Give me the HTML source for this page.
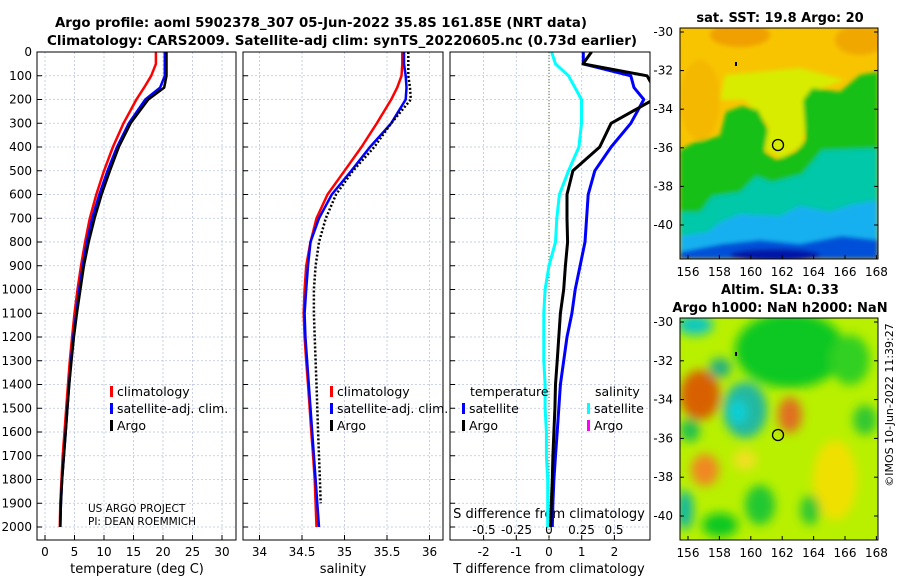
<!DOCTYPE html>
<html><head><meta charset="utf-8"><style>
body{margin:0;background:#fff}
svg{display:block;font-family:"DejaVu Sans","Liberation Sans",sans-serif}
</style></head><body>
<svg id="c" width="900" height="580" viewBox="0 0 900 580">
<defs>
<filter id="bl" x="-20%" y="-20%" width="140%" height="140%"><feGaussianBlur stdDeviation="2"/></filter>
<filter id="bl2" x="-20%" y="-20%" width="140%" height="140%"><feGaussianBlur stdDeviation="5"/></filter>
<clipPath id="cp1"><rect x="37" y="52" width="199" height="488"/></clipPath>
<clipPath id="cp2"><rect x="243" y="52" width="200" height="488"/></clipPath>
<clipPath id="cp3"><rect x="450" y="52" width="200" height="488"/></clipPath>
<clipPath id="cm1"><rect x="680" y="28" width="198" height="231"/></clipPath>
<clipPath id="cm2"><rect x="680" y="318" width="198" height="222"/></clipPath>
</defs>
<text x="55" y="27" font-size="13" font-weight="bold" textLength="532" lengthAdjust="spacingAndGlyphs">Argo profile: aoml 5902378_307 05-Jun-2022 35.8S 161.85E (NRT data)</text>
<text x="47" y="45" font-size="13" font-weight="bold" textLength="590" lengthAdjust="spacingAndGlyphs">Climatology: CARS2009. Satellite-adj clim: synTS_20220605.nc (0.73d earlier)</text>
<text x="780" y="22" font-size="13" font-weight="bold" text-anchor="middle">sat. SST: 19.8 Argo: 20</text>
<text x="780" y="294" font-size="13" font-weight="bold" text-anchor="middle">Altim. SLA: 0.33</text>
<text x="780" y="312" font-size="13" font-weight="bold" text-anchor="middle">Argo h1000: NaN h2000: NaN</text>
<text transform="translate(893,405) rotate(-90)" font-size="11" text-anchor="middle">©IMOS 10-Jun-2022 11:39:27</text>
<g id="g"></g>
</svg>
<script>
const depths=[0,50,100,150,200,300,400,500,600,700,800,900,1000,1100,1200,1300,1400,1500,1600,1700,1800,1900,2000];
const tClim=[18.8,18.8,18.0,16.8,15.5,13.3,11.5,10.0,8.7,7.6,6.8,6.1,5.5,5.0,4.6,4.2,3.9,3.6,3.3,3.0,2.8,2.6,2.5];
const tSat=[20.3,20.3,20.3,19.5,17.0,14.2,12.2,10.6,9.2,8.0,7.1,6.4,5.8,5.3,4.8,4.4,4.1,3.8,3.5,3.2,2.9,2.7,2.6];
const tArgo=[20.6,20.6,20.6,20.2,17.5,14.5,12.5,11.0,9.6,8.4,7.4,6.6,6.0,5.4,4.9,4.5,4.1,3.8,3.5,3.2,2.9,2.7,2.6];
const sClim=[35.68,35.68,35.67,35.62,35.55,35.38,35.2,35.0,34.8,34.67,34.6,34.55,34.53,34.52,34.53,34.55,34.57,34.59,34.61,34.63,34.65,34.66,34.67];
const sSat=[35.7,35.7,35.72,35.73,35.72,35.55,35.3,35.08,34.85,34.7,34.6,34.57,34.55,34.53,34.54,34.56,34.58,34.6,34.62,34.64,34.66,34.68,34.7];
const sArgo=[35.75,35.75,35.75,35.77,35.78,35.55,35.35,35.1,34.9,34.78,34.7,34.66,34.64,34.64,34.65,34.66,34.67,34.68,34.69,34.7,34.71,34.72,null];
const dtSat=[1.05,1.05,2.5,2.6,2.9,2.5,1.9,1.4,1.2,1.15,1.1,0.95,0.8,0.7,0.55,0.45,0.35,0.3,0.25,0.2,0.15,0.12,0.1];
const dtArgo=[1.3,1.04,3.0,3.2,3.2,1.9,1.55,0.73,0.55,0.55,0.57,0.5,0.45,0.35,0.3,0.25,0.2,0.18,0.15,0.12,0.1,0.07,0.05];
const dsSat=[0.02,0.05,0.15,0.2,0.25,0.25,0.23,0.15,0.08,0.06,0.05,0.0,-0.03,-0.04,-0.04,-0.04,-0.03,-0.03,-0.02,-0.02,-0.01,-0.01,-0.01];
const depthTicks=[0,100,200,300,400,500,600,700,800,900,1000,1100,1200,1300,1400,1500,1600,1700,1800,1900,2000];
const tTicks=[0,5,10,15,20,25,30];
const sTicks=[34,34.5,35,35.5,36];
const dtTicks=[-2,-1,0,1,2];
const dsTicks=[-0.5,-0.25,0,0.25,0.5];
const dsLabels=["-0.5","-0.25","0","0.25","0.5"];
const latTicks=[-30,-32,-34,-36,-38,-40];
const lonTicks=[156,158,160,162,164,166,168];

const NS="http://www.w3.org/2000/svg";
const G=document.getElementById('g');
function el(t,a,p){const e=document.createElementNS(NS,t);for(const k in a)e.setAttribute(k,a[k]);(p||G).appendChild(e);return e;}
function tx(x,y,s,a,p){const e=el('text',Object.assign({x:x,y:y,'font-size':12},a||{}),p);e.textContent=s;return e;}
const yD=d=>52+d*0.2375;
const xT=v=>45+v*5.9;
const xS=v=>302+(v-34.5)*85;
const xDT=v=>549+v*32.7;
const xDS=v=>549+v*130;
const panels=[[37,199,'cp1'],[243,200,'cp2'],[450,200,'cp3']];
panels.forEach((p,i)=>{
  const gg=el('g',{});
  
  
  depthTicks.forEach(d=>{el('line',{x1:p[0],x2:p[0]+p[1],y1:yD(d),y2:yD(d),stroke:'#b8c4e0','stroke-width':0.8,'stroke-dasharray':'2,2'},gg);
    el('line',{x1:p[0],x2:p[0]+5,y1:yD(d),y2:yD(d),stroke:'#000'},gg);});
  const xs=i==0?tTicks.map(xT):i==1?sTicks.map(xS):dtTicks.map(xDT);
  xs.forEach(x=>{el('line',{x1:x,x2:x,y1:52,y2:540,stroke:'#b8c4e0','stroke-width':0.8,'stroke-dasharray':'2,2'},gg);
    el('line',{x1:x,x2:x,y1:540,y2:535,stroke:'#000'},gg);});
});
depthTicks.forEach(d=>{const t=tx(32,yD(d)+4,String(d),{'text-anchor':'end'});
  
  });
tTicks.forEach(v=>{const t=tx(xT(v),556,String(v),{'text-anchor':'middle'});
  
  });
sTicks.forEach(v=>{const t=tx(xS(v),556,String(v),{'text-anchor':'middle'});
  
  });
dtTicks.forEach(v=>{const t=tx(xDT(v),556,String(v),{'text-anchor':'middle'});
  
  });
dsTicks.forEach((v,i)=>{const t=tx(xDS(v),534,dsLabels[i],{'text-anchor':'middle'});
  
  });
let t;
t=tx(137,573,'temperature (deg C)',{'text-anchor':'middle','font-size':13});


t=tx(343,573,'salinity',{'text-anchor':'middle','font-size':13});


t=tx(549,573,'T difference from climatology',{'text-anchor':'middle','font-size':13});


t=tx(549,518,'S difference from climatology',{'text-anchor':'middle','font-size':13});


t=tx(88,512,'US ARGO PROJECT',{'font-size':10.5});


t=tx(88,525,'PI: DEAN ROEMMICH',{'font-size':10.5});


el('line',{x1:549,x2:549,y1:52,y2:540,stroke:'#556b2f','stroke-dasharray':'1,2'});
function line(xs,fx,clip,color,w,dash,name){
  const pts=[];depths.forEach((d,i)=>{if(xs[i]!==null)pts.push(fx(xs[i]).toFixed(1)+','+yD(d).toFixed(1));});
  const a={points:pts.join(' '),fill:'none',stroke:color,'stroke-width':w,'clip-path':'url(#'+clip+')','stroke-linejoin':'round'};
  if(dash)a['stroke-dasharray']=dash;
  const e=el('polyline',a);
  
  
}
line(tClim,xT,'cp1','#f00',2.5,null,'temp-climatology-line');
line(tSat,xT,'cp1','#00f',2.5,null,'temp-satellite-line');
line(tArgo,xT,'cp1','#000',2.5,null,'temp-argo-line');
line(sClim,xS,'cp2','#f00',2.5,null,'sal-climatology-line');
line(sSat,xS,'cp2','#00f',2.5,null,'sal-satellite-line');
line(sArgo,xS,'cp2','#000',2.5,'2,2','sal-argo-line');
line(dsSat,xDS,'cp3','#0ff',3,null,'sdiff-satellite-line');
line(dtSat,xDT,'cp3','#00f',3,null,'tdiff-satellite-line');
line(dtArgo,xDT,'cp3','#000',3,null,'tdiff-argo-line');
panels.forEach((p,i)=>{const r=el('rect',{x:p[0],y:52,width:p[1],height:488,fill:'none',stroke:'#000'});
  
  });
function leg(x,y,c,s,name){el('rect',{x:x,y:y-10,width:3,height:11,fill:c});
  const tt=tx(x+7,y,s,{'font-size':12.5});
  
  }
leg(110,396,'#f00','climatology','legend-temp-climatology');
leg(110,413,'#00f','satellite-adj. clim.','legend-temp-satellite');
leg(110,430,'#000','Argo','legend-temp-argo');
leg(330,396,'#f00','climatology','legend-sal-climatology');
leg(330,413,'#00f','satellite-adj. clim.','legend-sal-satellite');
leg(330,430,'#000','Argo','legend-sal-argo');
t=tx(470,396,'temperature',{'font-size':12.5});


t=tx(595,396,'salinity',{'font-size':12.5});


leg(462,413,'#00f','satellite','legend-tdiff-satellite');
leg(462,430,'#000','Argo','legend-tdiff-argo');
leg(587,413,'#0ff','satellite','legend-sdiff-satellite');
leg(587,430,'#f0f','Argo','legend-sdiff-argo');
function mapFrame(y0,h,latY,cy,clip,shapes,bg,name,filt){
  const gg=el('g',{'clip-path':'url(#'+clip+')'});
  
  
  el('rect',{x:680,y:y0,width:198,height:h,fill:bg},gg);
  const fb=el('g',{filter:'url(#'+filt+')'},gg);
  shapes.forEach(s=>{ if(s[0]==='p') el('polygon',{points:s[1],fill:s[2]},fb); else el('ellipse',{cx:s[1],cy:s[2],rx:s[3],ry:s[4],fill:s[5]},fb);});
  el('circle',{cx:778,cy:cy,r:5.5,fill:'none',stroke:'#000','stroke-width':1.3},gg);
  el('rect',{x:735,y:y0+34,width:2,height:4,fill:'#000'},gg);
  el('rect',{x:680,y:y0,width:198,height:h,fill:'none',stroke:'#000'});
  latTicks.forEach(l=>{const yy=latY(l);const tt=tx(673,yy+4,String(l),{'text-anchor':'end','font-size':12});
    
    
    el('line',{x1:680,x2:684,y1:yy,y2:yy,stroke:'#000'});el('line',{x1:874,x2:878,y1:yy,y2:yy,stroke:'#000'});});
  lonTicks.forEach(l=>{const xx=688+(l-156)*15.7;const tt=tx(xx,y0+h+17,String(l),{'text-anchor':'middle','font-size':12});
    
    
    el('line',{x1:xx,x2:xx,y1:y0+h,y2:y0+h-4,stroke:'#000'});});
}
mapFrame(28,231,l=>32+(-30-l)*19.3,145,'cm1',[
 ['e',740,35,30,12,'#f0a000'],['e',860,40,25,15,'#f0a800'],['e',700,100,20,40,'#f4b800'],
 ['p','725,75 800,68 845,80 810,92 802,145 782,158 765,150 768,125 745,100 720,100','#d8ec00'],
 ['p','878,72 860,75 840,92 812,88 803,100 806,140 796,152 776,160 764,152 768,130 758,110 742,106 726,112 720,136 695,142 680,150 680,259 878,259','#18c018'],
 ['p','878,148 822,150 802,174 772,182 756,176 740,192 712,196 700,212 680,212 680,259 878,259','#00c8a8'],
 ['p','878,200 850,205 830,212 800,206 780,216 740,214 720,222 708,232 680,236 680,259 878,259','#18b0f0'],
 ['p','680,252 722,244 760,240 800,244 842,236 878,240 878,259 680,259','#0050d8'],
 ['e',775,255,45,6,'#0018a8']
],'#f8c400','sst-map','bl');
mapFrame(318,222,l=>322+(-30-l)*19.4,435,'cm2',[
 ['e',790,350,55,38,'#10c820'],['e',850,360,20,25,'#30d020'],['e',695,325,18,10,'#10c8c0'],
 ['e',700,395,20,25,'#d86000'],['e',745,410,22,28,'#20b8a0'],['e',738,412,9,12,'#10d0d8'],
 ['e',720,368,11,10,'#20b080'],['e',790,415,12,18,'#e07020'],['e',705,470,14,16,'#f08820'],
 ['e',835,480,22,40,'#f0e000'],['e',760,505,15,20,'#20c830'],['e',720,525,18,12,'#10c820'],
 ['e',865,420,12,15,'#30c830'],['e',690,430,10,12,'#20c050'],['e',745,460,12,10,'#f0e020'],
 ['e',685,510,8,20,'#10b8a0'],['e',810,510,10,15,'#30c830']
],'#b8f000','sla-map','bl2');
</script>
</body></html>
